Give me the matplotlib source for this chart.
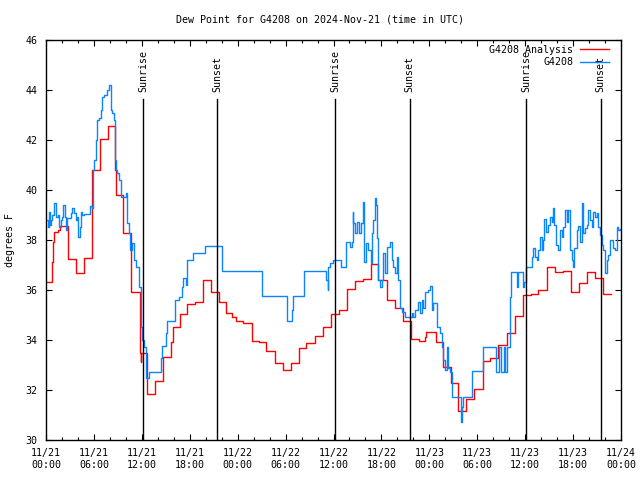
import numpy as np
import pandas as pd
import matplotlib
matplotlib.use("Agg")
import matplotlib.pyplot as plt
import matplotlib.dates as mdates

# hours after 2024-11-21 00:00 UTC where each step starts, and dew point (F)
analysis_hours = [0.0, 0.75, 0.85, 1.0, 1.5, 1.75, 2.7, 3.7, 4.75, 5.8, 6.75, 7.75, 8.65, 8.75,
                  9.7, 10.7, 11.75, 11.85, 11.95, 12.7, 13.7, 14.7, 15.7, 15.9, 16.8, 17.7,
                  18.7, 19.7, 20.7, 21.6, 22.6, 23.3, 23.8, 24.7, 25.75, 26.7, 27.6, 28.7,
                  29.7, 30.7, 31.7, 32.6, 33.7, 34.7, 35.7, 36.7, 37.7, 38.7, 39.7, 40.7,
                  41.6, 42.7, 43.7, 44.7, 45.7, 46.7, 47.4, 47.6, 48.8, 49.7, 50.7, 51.6,
                  52.6, 53.6, 54.7, 55.6, 56.6, 57.7, 58.7, 59.7, 60.7, 61.6, 62.7, 63.7,
                  64.7, 65.7, 66.8, 67.8, 68.7, 69.7, 70.7]
analysis_vals = [36.3, 37.1, 37.9, 38.3, 38.4, 38.57, 37.25, 36.67, 37.28, 40.8, 42.03, 42.56, 40.8, 39.8,
                 38.27, 35.9, 33.48, 33.13, 33.47, 31.84, 32.35, 33.33, 33.92, 34.5, 35.03, 35.43,
                 35.53, 36.4, 35.92, 35.53, 35.07, 34.9, 34.75, 34.67, 33.95, 33.9, 33.55, 33.08,
                 32.79, 33.08, 33.68, 33.87, 34.16, 34.53, 35.03, 35.2, 36.03, 36.37, 36.42, 37.03,
                 36.4, 35.6, 35.27, 34.77, 34.03, 33.96, 34.1, 34.31, 33.9, 32.9, 32.27, 31.16,
                 31.63, 32.03, 33.17, 33.3, 33.79, 34.29, 34.96, 35.79, 35.84, 36.0, 36.9, 36.72,
                 36.77, 35.92, 36.27, 36.72, 36.47, 35.83, 35.83]

obs_hours = [0.0, 0.25, 0.33, 0.46, 0.58, 0.79, 1.0, 1.29, 1.5, 1.63, 1.84, 2.04, 2.17, 2.34,
             2.46, 2.67, 3.09, 3.3, 3.5, 3.72, 3.92, 4.05, 4.22, 4.42, 4.55, 4.76, 5.51, 5.72,
             5.84, 6.01, 6.22, 6.34, 6.64, 6.85, 7.05, 7.26, 7.6, 7.93, 8.1, 8.3, 8.5, 8.64,
             8.77, 8.93, 9.14, 9.35, 9.98, 10.1, 10.4, 10.52, 10.8, 11.02, 11.23, 11.65, 11.85,
             12.06, 12.27, 12.48, 12.94, 14.36, 14.5, 15.0, 15.1, 16.2, 16.6, 17.0, 17.2, 17.5,
             17.6, 17.7, 18.4, 19.9, 22.0, 27.1, 30.2, 30.8, 30.9, 32.3, 35.0, 35.1, 35.25,
             35.35, 35.6, 35.9, 36.95, 37.52, 38.07, 38.28, 38.4, 38.48, 38.69, 38.98, 39.2,
             39.4, 39.65, 39.82, 40.07, 40.36, 40.66, 40.78, 40.9, 41.2, 41.32, 41.4, 41.61,
             41.82, 42.03, 42.24, 42.45, 42.66, 43.08, 43.28, 43.49, 43.7, 43.91, 44.12, 44.33,
             44.54, 44.95, 45.79, 46.0, 46.2, 46.62, 46.83, 47.04, 47.24, 47.46, 47.87, 48.08,
             48.29, 48.5, 48.84, 49.0, 49.34, 49.55, 49.75, 49.96, 50.17, 50.38, 50.59, 50.8,
             51.84, 51.97, 52.09, 52.18, 53.3, 54.76, 56.3, 56.72, 56.97, 57.35, 57.5, 57.77,
             58.1, 58.23, 58.94, 59.15, 59.69, 59.86, 60.1, 60.81, 61.02, 61.23, 61.52, 61.65,
             61.86, 62.07, 62.28, 62.4, 62.61, 62.9, 63.11, 63.32, 63.53, 63.66, 63.86, 64.16,
             64.36, 64.57, 64.78, 64.99, 65.2, 65.4, 65.61, 65.82, 66.03, 66.16, 66.45, 66.66,
             66.87, 67.08, 67.28, 67.49, 67.7, 67.91, 68.12, 68.33, 68.53, 68.74, 68.95, 69.16,
             69.37, 69.58, 69.79, 69.99, 70.2, 70.41, 70.62, 70.83, 71.04, 71.25, 71.46, 71.67,
             71.88]
obs_vals = [38.8, 38.53, 39.13, 38.6, 38.8, 39.0, 39.49, 38.93, 39.0, 38.53, 38.8, 38.93, 39.4, 38.93,
            38.4, 38.87, 39.07, 39.27, 39.07, 38.8, 38.93, 38.13, 38.53, 39.13, 39.0, 39.03, 39.37, 39.27,
            40.8, 41.2, 42.0, 42.8, 42.87, 43.2, 43.73, 43.8, 44.0, 44.2, 43.2, 43.07, 42.8, 41.2,
            40.8, 40.67, 40.4, 39.73, 39.87, 38.67, 38.27, 37.6, 37.87, 37.2, 36.93, 36.13, 34.53,
            34.0, 33.73, 32.47, 32.73, 33.27, 33.76, 34.27, 34.77, 35.6, 35.73, 36.1, 36.47, 36.2,
            36.47, 37.2, 37.47, 37.76, 36.76, 35.76, 34.75, 35.2, 35.76, 36.76, 36.6, 36.4, 36.0,
            36.9, 37.07, 37.2, 36.9, 37.92, 37.73, 37.92, 39.13, 38.67, 38.27, 38.73, 38.27,
            38.67, 39.53, 37.13, 37.87, 37.6, 37.07, 38.27, 38.8, 39.67, 39.4, 38.07, 36.4,
            36.13, 36.4, 37.47, 36.67, 37.73, 37.93, 37.2, 36.93, 36.67, 37.33, 36.4, 35.27,
            35.13, 34.93, 35.07, 34.93, 35.2, 35.53, 35.07, 35.6, 35.27, 35.93, 36.0, 36.16,
            35.2, 35.47, 35.47, 34.53, 34.27, 33.73, 33.2, 32.8, 33.73, 32.87, 32.73, 31.73,
            31.73, 30.73, 31.33, 31.73, 32.75, 33.73, 32.73, 33.73, 32.73, 33.73, 32.73, 33.73,
            35.73, 36.73, 36.13, 36.73, 36.13, 36.33, 36.93, 37.33, 37.67, 37.33, 37.2, 37.6,
            38.11, 37.6, 38.0, 38.83, 38.33, 38.6, 38.93, 38.73, 39.27, 38.6, 37.8, 37.6,
            38.4, 38.13, 38.53, 39.2, 38.73, 39.2, 37.6, 37.2, 36.93, 37.67, 38.4, 38.56,
            37.93, 39.47, 38.27, 38.47, 38.6, 39.2, 38.8, 38.53, 39.13, 38.93, 39.07, 38.53,
            38.2, 37.8, 37.6, 36.67, 37.2, 37.4, 38.0, 38.0, 37.67, 37.6, 38.53, 38.4,
            38.44]

sun_hours = [12.18, 21.45, 36.25, 45.52, 60.12, 69.45]
sun_labels = ["Sunrise", "Sunset", "Sunrise", "Sunset", "Sunrise", "Sunset"]

start = pd.Timestamp("2024-11-21 00:00")
def to_time(hours):
    return start + pd.to_timedelta(np.asarray(hours), unit="h")

mono = "DejaVu Sans Mono"
fs = 7.2
plt.rcParams["font.family"] = mono
plt.rcParams["font.size"] = fs

fig = plt.figure(figsize=(6.4, 4.8), dpi=100)
ax = fig.add_axes([46 / 640, 40 / 480, 575 / 640, 400 / 480])

ax.plot(to_time(analysis_hours), analysis_vals, drawstyle="steps-post", color="#ff0000",
        linewidth=1.0, label="G4208 Analysis")
ax.plot(to_time(obs_hours), obs_vals, drawstyle="steps-post", color="#0a84ff",
        linewidth=1.0, label="G4208")

for h, lab in zip(sun_hours, sun_labels):
    t = to_time(h)
    ax.plot([t, t], [30, 43.64], color="black", linewidth=1.0)
    ax.text(t, 43.93, lab, rotation=90, ha="center", va="bottom", fontsize=fs)

ax.set_xlim(to_time(0), to_time(72))
ax.set_ylim(30, 46)
ax.set_yticks(range(30, 47, 2))
ax.xaxis.set_major_locator(mdates.HourLocator(byhour=[0, 6, 12, 18]))
ax.xaxis.set_minor_locator(mdates.HourLocator(byhour=range(0, 24, 2)))
ax.xaxis.set_major_formatter(mdates.DateFormatter("%m/%d\n%H:%M"))
ax.tick_params(which="both", direction="in", top=True, right=True, labelsize=fs)
ax.tick_params(which="major", length=4, width=0.8, pad=6)
ax.tick_params(which="minor", length=2.5, width=0.8)
for s in ax.spines.values():
    s.set_linewidth(1.0)

ax.set_ylabel("degrees F", fontsize=fs, labelpad=8)
fig.text(0.5, 1 - 19 / 480, "Dew Point for G4208 on 2024-Nov-21 (time in UTC)",
         ha="center", va="center", fontsize=fs)

ax.legend(loc="upper right", bbox_to_anchor=(1 - 7 / 575, 1), frameon=False,
          markerfirst=False, fontsize=fs, handlelength=2.9, handletextpad=0.7,
          labelspacing=0.25, borderaxespad=0.3, borderpad=0.2)

fig.savefig("out.png", dpi=100)
